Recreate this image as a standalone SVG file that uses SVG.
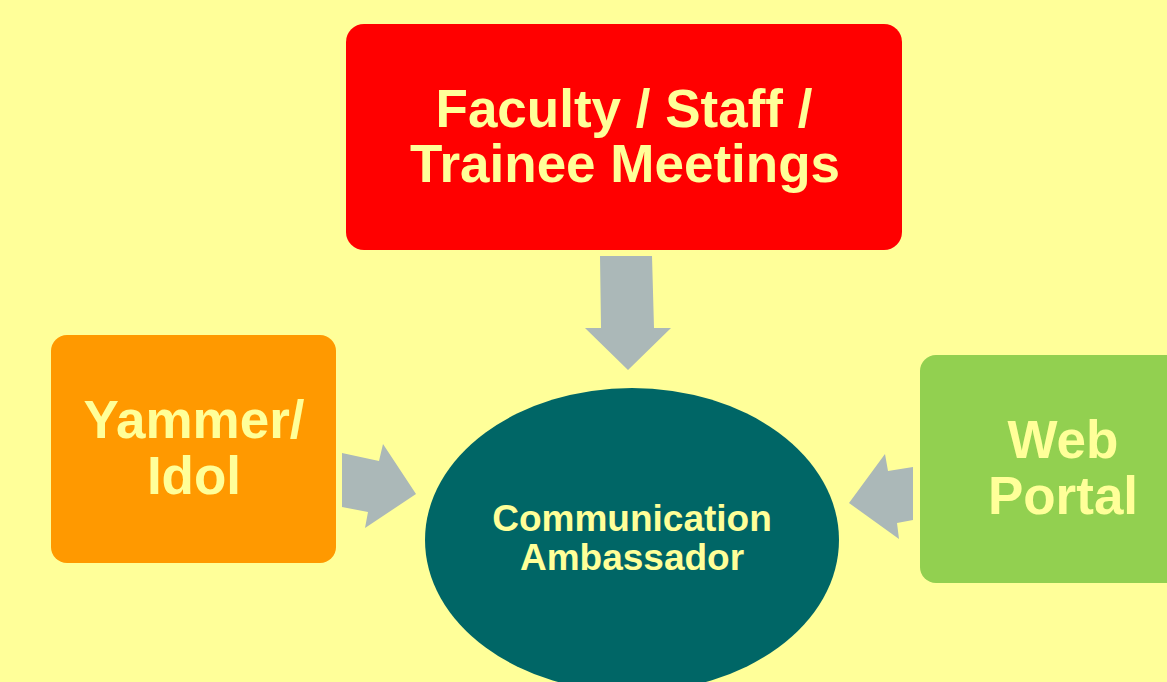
<svg xmlns="http://www.w3.org/2000/svg" width="1167" height="682" viewBox="0 0 1167 682">
  <style>
    .lbl { font-family: "Liberation Sans", Arial, sans-serif; font-weight: bold; fill: #FFFF99; text-anchor: middle; }
    .big { font-size: 53px; }
    .mid { font-size: 53px; }
    .small { font-size: 37px; }
    .arrow { fill: #ABB8B8; }
  </style>
  <rect x="0" y="0" width="1167" height="682" fill="#FFFF99"/>

  <g id="connectors">
    <polygon class="arrow" points="600,256 652,256 654,328 671,328 628,370 585,328 601,328"/>
    <polygon class="arrow" points="342,453 379,461 383,444 416,494 365,528 368,512 342,507"/>
    <polygon class="arrow" points="913,467 888,471 885,454 849,503 899,539 897,523 913,520"/>
  </g>

  <g id="node-meetings">
    <rect x="346" y="24" width="556" height="226" rx="18" fill="#FF0000"/>
    <text class="lbl big" x="624" y="127">Faculty / Staff /</text>
    <text class="lbl big" x="625" y="182">Trainee Meetings</text>
  </g>

  <g id="node-yammer">
    <rect x="51" y="335" width="285" height="228" rx="16" fill="#FF9900"/>
    <text class="lbl mid" x="194" y="438">Yammer/</text>
    <text class="lbl mid" x="194" y="494">Idol</text>
  </g>

  <g id="node-portal">
    <rect x="920" y="355" width="286" height="228" rx="16" fill="#92D050"/>
    <text class="lbl mid" x="1063" y="458">Web</text>
    <text class="lbl mid" x="1063" y="514">Portal</text>
  </g>

  <g id="node-ambassador">
    <ellipse cx="632" cy="540" rx="207" ry="152" fill="#006666"/>
    <text class="lbl small" x="632" y="531">Communication</text>
    <text class="lbl small" x="632" y="570">Ambassador</text>
  </g>
</svg>
